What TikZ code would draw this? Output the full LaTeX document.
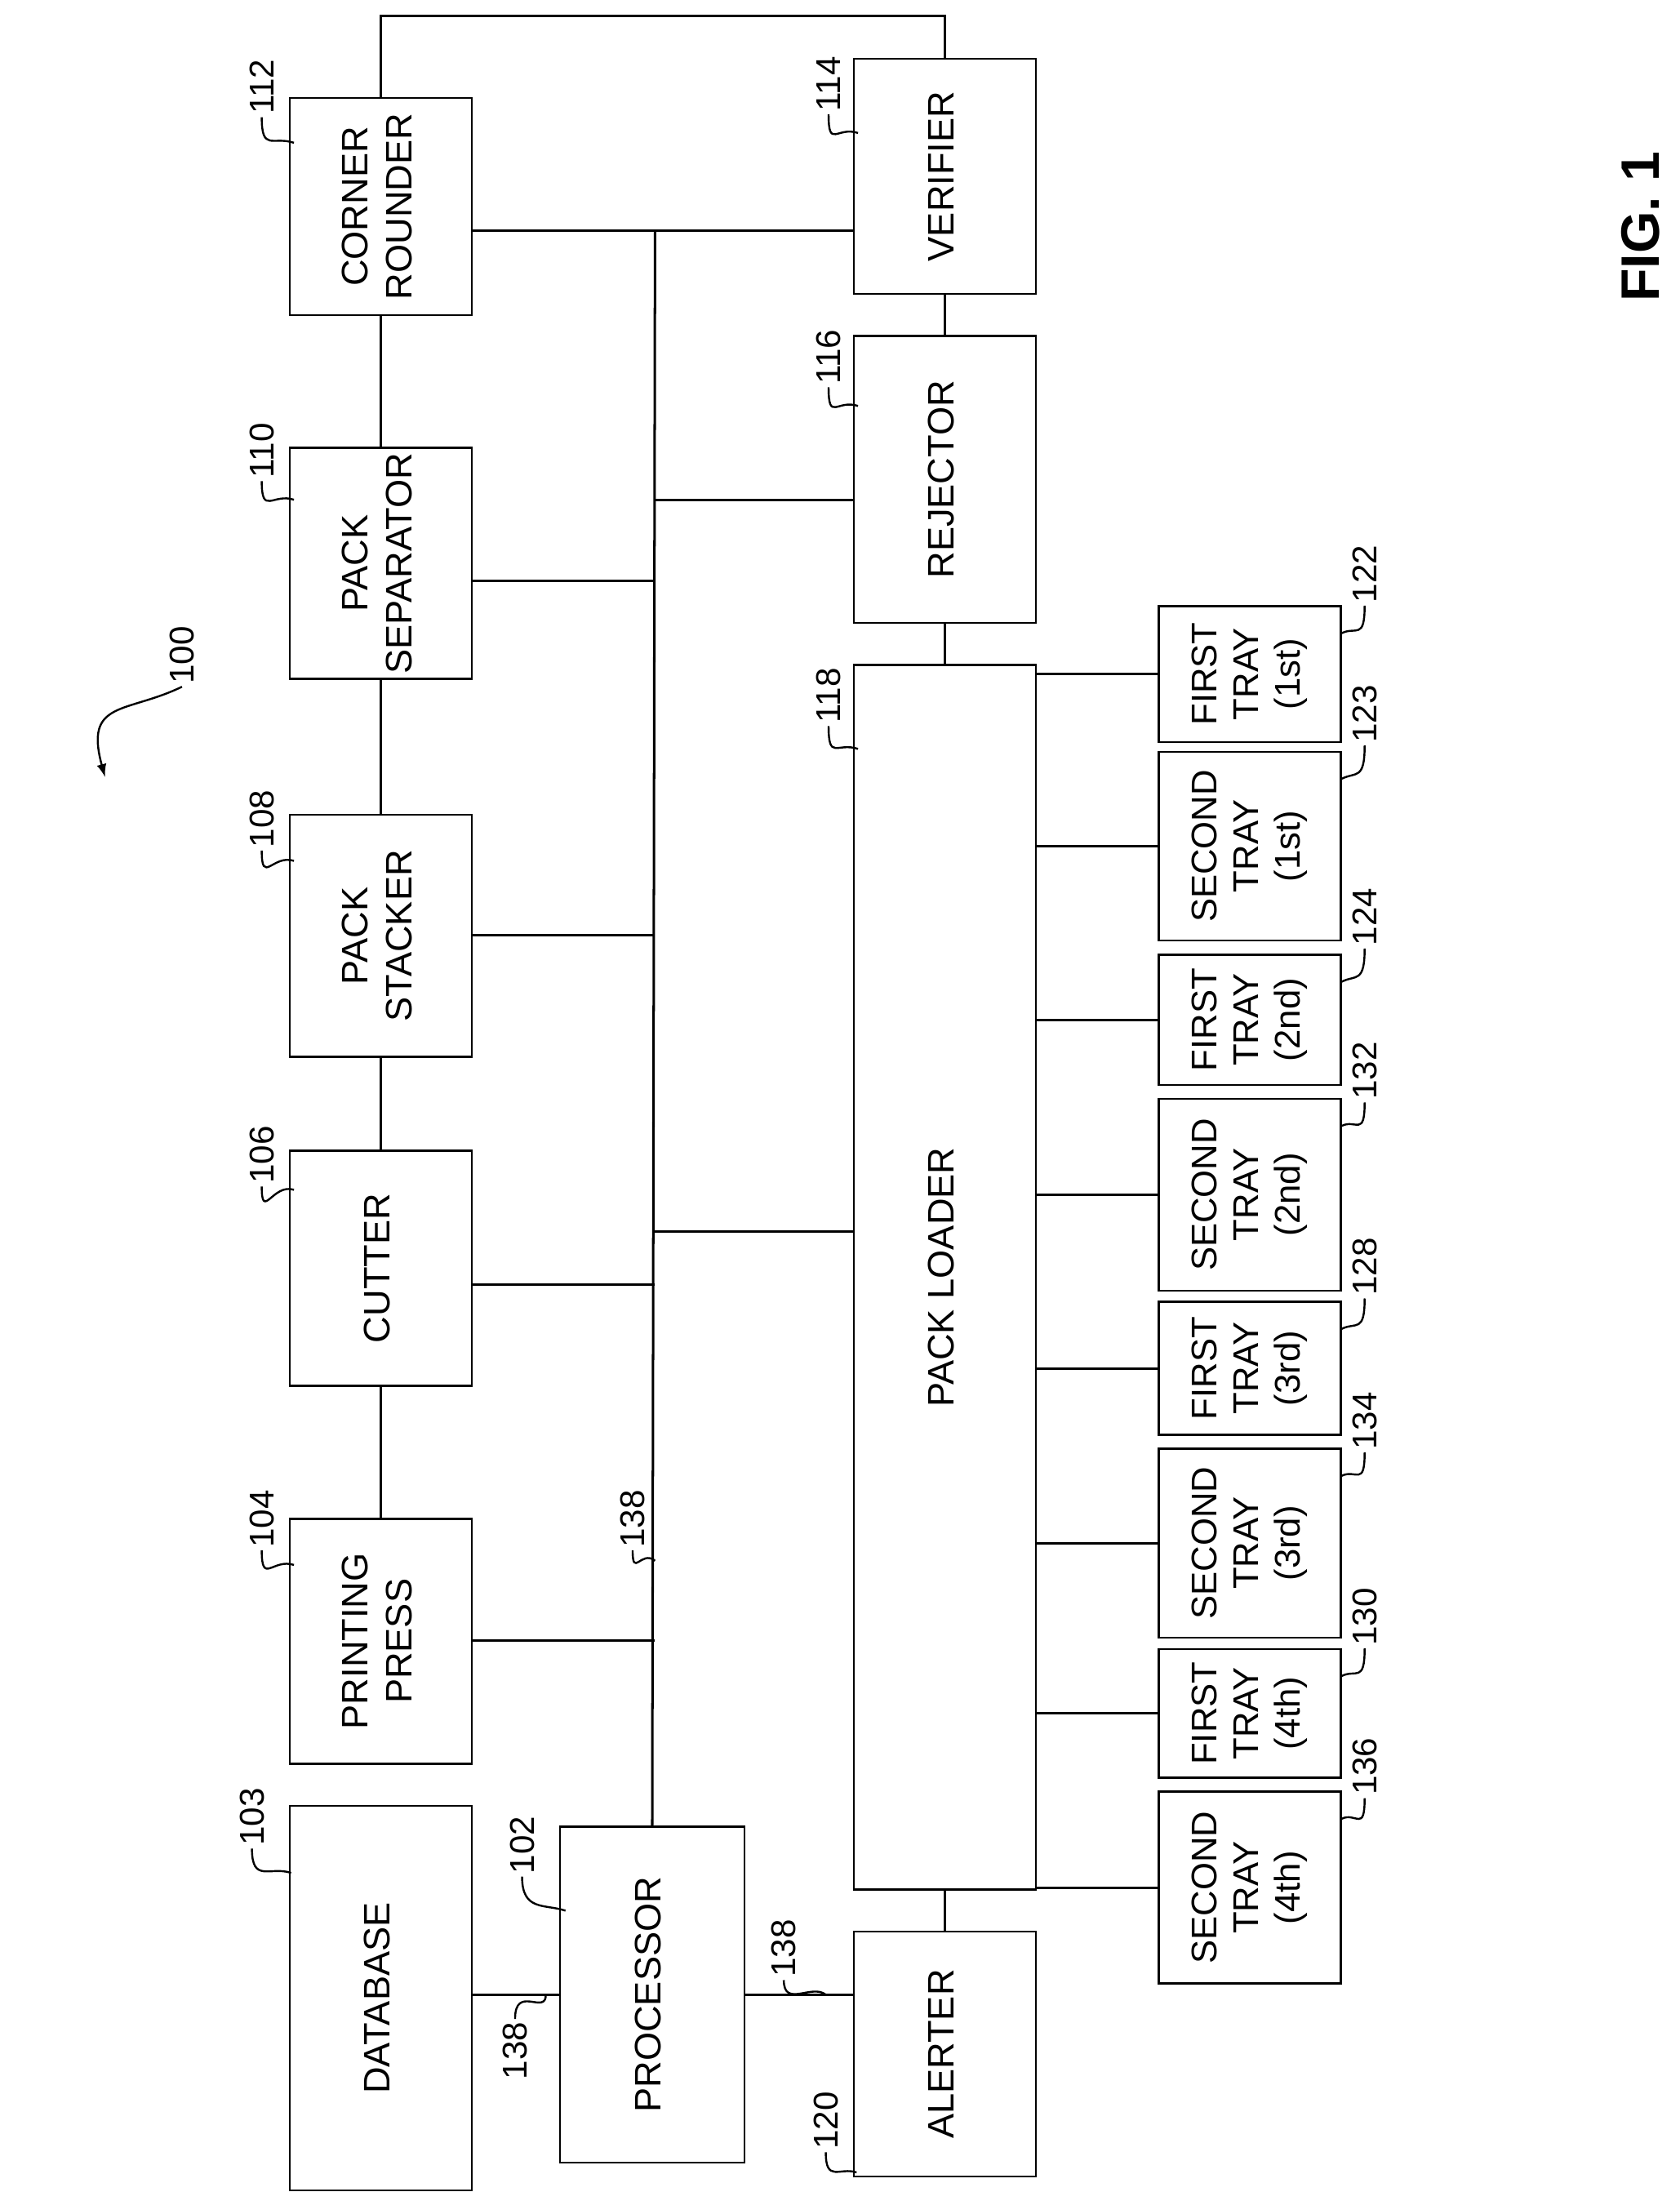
\documentclass[tikz,border=0pt]{standalone}
\usepackage{fontspec}
\setmainfont{Liberation Sans}
\usetikzlibrary{positioning}

\tikzset{
  blk/.style={draw, line width=0.8pt, minimum width=2.6cm, inner sep=0pt, font=\fontsize{15}{18}\selectfont},
  tray/.style={blk, font=\fontsize{14.5}{17}\selectfont},
  num/.style={inner sep=1pt, font=\fontsize{14}{16}\selectfont},
  wire/.style={line width=1pt},
  lead/.style={line width=0.8pt}
}
\newcommand{\vt}[1]{\rotatebox{90}{\begin{tabular}{@{}c@{}}#1\end{tabular}}}

\begin{document}
\begin{tikzpicture}[x=0.02cm, y=-0.02cm]
\useasboundingbox (0,0) rectangle (1200,1566);

% left column
\node[blk, minimum height=3.1cm]  (cr) at (272,147.5)  {\vt{CORNER\\ROUNDER}};
\node[blk, minimum height=3.3cm]  (ps) at (272,402.5)  {\vt{PACK\\SEPARATOR}};
\node[blk, minimum height=3.46cm] (st) at (272,668.5)  {\vt{PACK\\STACKER}};
\node[blk, minimum height=3.36cm] (cu) at (272,906)    {\vt{CUTTER}};
\node[blk, minimum height=3.5cm]  (pp) at (272,1172.5) {\vt{PRINTING\\PRESS}};
\node[blk, minimum height=5.5cm]  (db) at (272,1427.5) {\vt{DATABASE}};
\node[blk, minimum width=2.64cm, minimum height=4.8cm] (pr) at (466,1425) {\vt{PROCESSOR}};

% right column
\node[blk, minimum height=3.36cm] (vf) at (675,126)    {\vt{VERIFIER}};
\node[blk, minimum height=4.1cm]  (rj) at (675,342.5)  {\vt{REJECTOR}};
\node[blk, minimum height=17.5cm] (pl) at (675,912.5)  {\vt{PACK LOADER}};
\node[blk, minimum height=3.5cm]  (al) at (675,1467.5) {\vt{ALERTER}};

% trays
\node[tray, minimum height=1.94cm] (t1) at (893,481.5)  {\vt{FIRST\\TRAY\\(1st)}};
\node[tray, minimum height=2.7cm]  (t2) at (893,604.5)  {\vt{SECOND\\TRAY\\(1st)}};
\node[tray, minimum height=1.86cm] (t3) at (893,728.5)  {\vt{FIRST\\TRAY\\(2nd)}};
\node[tray, minimum height=2.74cm] (t4) at (893,853.5)  {\vt{SECOND\\TRAY\\(2nd)}};
\node[tray, minimum height=1.9cm]  (t5) at (893,977.5)  {\vt{FIRST\\TRAY\\(3rd)}};
\node[tray, minimum height=2.7cm]  (t6) at (893,1102.5) {\vt{SECOND\\TRAY\\(3rd)}};
\node[tray, minimum height=1.84cm] (t7) at (893,1224)   {\vt{FIRST\\TRAY\\(4th)}};
\node[tray, minimum height=2.74cm] (t8) at (893,1348.5) {\vt{SECOND\\TRAY\\(4th)}};

% chain
\draw[wire] (cr) -- (ps);
\draw[wire] (ps) -- (st);
\draw[wire] (st) -- (cu);
\draw[wire] (cu) -- (pp);
\draw[wire] (vf) -- (rj);
\draw[wire] (rj) -- (pl);
\draw[wire] (pl) -- (al);
\draw[wire] (cr.north) -- ++(0,-58) -| (vf.north);

% bus
\coordinate (b1) at (468,165);
\coordinate (b2) at (468,357);
\coordinate (b3) at (468,415);
\coordinate (b4) at (468,668);
\coordinate (b5) at (468,880);
\coordinate (b6) at (468,918);
\coordinate (b7) at (468,1172);
\draw[wire] (b1) -- (pr.north);
\draw[wire] (b1 -| cr.east) -- (b1 -| vf.west);
\draw[wire] (b2) -- (b2 -| rj.west);
\draw[wire] (b3 -| ps.east) -- (b3);
\draw[wire] (b4 -| st.east) -- (b4);
\draw[wire] (b5) -- (b5 -| pl.west);
\draw[wire] (b6 -| cu.east) -- (b6);
\draw[wire] (b7 -| pp.east) -- (b7);
\draw[wire] (db.east |- pr.west) -- (pr.west);
\draw[wire] (pr.east) -- (pr.east -| al.west);

% trays to loader
\foreach \t in {t1,t2,t3,t4,t5,t6,t7,t8}
  \draw[wire] (\t.west -| pl.east) -- (\t.west);

% reference numerals
\node[num] (n100) at (130,468) {\rotatebox{90}{100}};
\draw[lead, -latex] (n100.south) .. controls (90,510) and (60,500) .. (75,555);
\foreach \n/\x/\y/\tx/\ty in {
  112/187/62/210/102, 110/187/322/210/357, 108/187/585/210/615,
  106/187/825/210/850, 104/187/1085/210/1118, 103/180/1298/208/1338,
  102/373/1318/404/1365, 118/592/497/613/535, 116/592/255/613/290,
  114/592/60/613/95}
{
  \node[num] (n\n) at (\x,\y) {\rotatebox{90}{\n}};
  \coordinate (e\n) at (\tx,\ty);
  \draw[lead] (n\n.south) .. controls ++(0,25) and ++(-15,-5) .. (e\n);
}
\node[num] (n120) at (590,1515) {\rotatebox{90}{120}};
\coordinate (e120) at (612,1552);
\draw[lead] (n120.south) .. controls ++(0,22) and ++(-12,-4) .. (e120);
\node[num] (nb1) at (452,1085) {\rotatebox{90}{138}};
\coordinate (eb1) at (468,1115);
\draw[lead] (nb1.south) .. controls ++(0,20) and ++(-10,-8) .. (eb1);
\node[num] (nb2) at (368,1465) {\rotatebox{90}{138}};
\coordinate (eb2) at (390,1425);
\draw[lead] (nb2.north) .. controls ++(0,-25) and ++(0,15) .. (eb2);
\node[num] (nb3) at (560,1392) {\rotatebox{90}{138}};
\coordinate (eb3) at (590,1425);
\draw[lead] (nb3.south) .. controls ++(0,20) and ++(-10,-8) .. (eb3);

\foreach \n/\t/\y in {122/t1/410, 123/t2/510, 124/t3/655, 132/t4/765,
                     128/t5/905, 134/t6/1015, 130/t7/1155, 136/t8/1262}
{
  \node[num] (n\n) at (975,\y) {\rotatebox{90}{\n}};
  \draw[lead] (n\n.south) .. controls ++(0,25) and ++(10,-5) .. ([yshift=-0.4cm]\t.north east);
}

\node[font=\bfseries\fontsize{22}{26}\selectfont] (fig) at (1172,162) {\rotatebox{90}{FIG. 1}};
\end{tikzpicture}
\end{document}
